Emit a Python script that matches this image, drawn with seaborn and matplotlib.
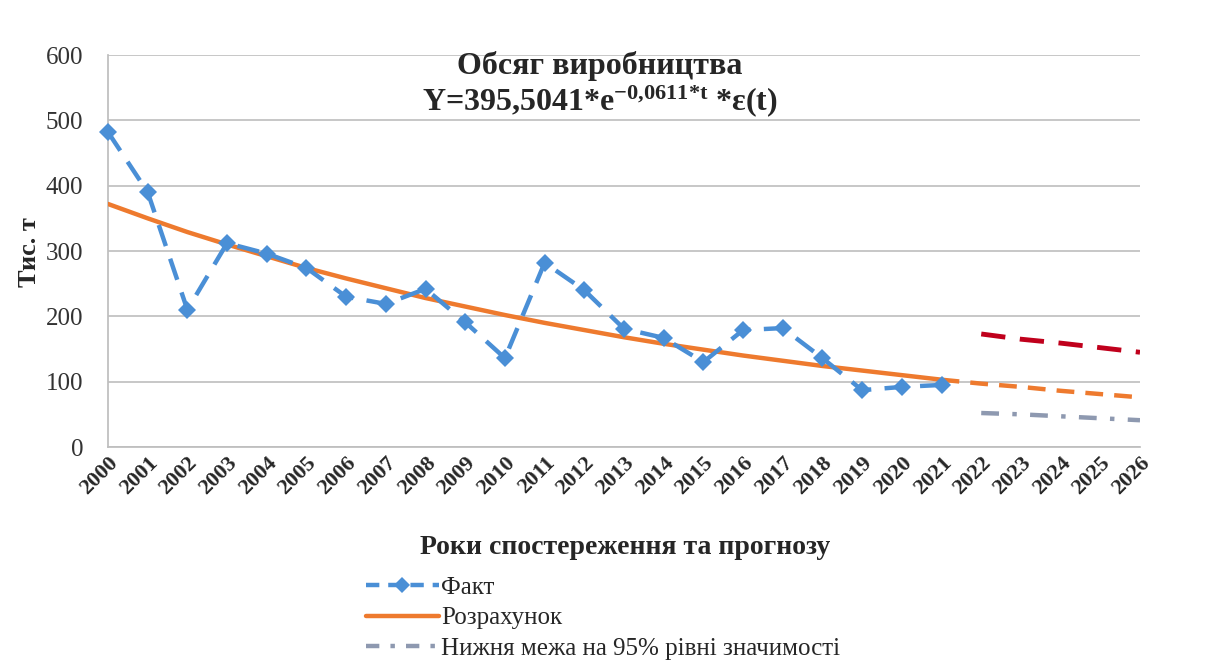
import numpy as np
import pandas as pd
import matplotlib
matplotlib.use("Agg")
import matplotlib.pyplot as plt
import seaborn as sns
from matplotlib.lines import Line2D

years = [str(y) for y in range(2000, 2027)]
fact_years = years[:22]
fact = [482, 390, 210, 312, 296, 274, 230, 219, 242, 191, 136, 282, 240, 181,
        167, 130, 179, 182, 136, 87, 92, 95]
calc_years = years[:22]
calc = [372, 350, 329, 310, 292, 274, 258, 243, 228, 215, 202, 190, 179, 168,
        158, 149, 140, 132, 124, 117, 110, 103]
fc_years = years[21:]
forecast = [103, 97, 92, 86, 81, 76]
bound_years = years[22:]
upper = [173, 165, 159, 152, 145]
lower = [52, 50, 47, 44, 41]

title1 = "Обсяг виробництва"
title2 = r"Y=395,5041*e$^{-0{,}0611{*}t}$ *ε(t)"
xlabel = "Роки спостереження та прогнозу"
ylabel = "Тис. т"
legend_labels = ["Факт", "Розрахунок", "Нижня межа на 95% рівні значимості"]

sns.set_theme(style="white")
plt.rcParams['font.family'] = ['Liberation Serif', 'DejaVu Serif']
plt.rcParams['mathtext.fontset'] = 'custom'
plt.rcParams['mathtext.rm'] = 'Liberation Serif:bold'
plt.rcParams['mathtext.it'] = 'Liberation Serif:bold'
plt.rcParams['mathtext.bf'] = 'Liberation Serif:bold'
plt.rcParams['mathtext.default'] = 'rm'

fig = plt.figure(figsize=(12.08, 6.61), dpi=100)
ax = fig.add_axes([108/1208, 1-447/661, (1140-108)/1208, (447-55)/661])

pos = {y: i for i, y in enumerate(years)}
def df(ys, vals):
    return pd.DataFrame({"x": [pos[y] for y in ys], "v": vals})

c_fact = "#4A8FD6"
c_calc = "#EE7A2E"
c_up = "#C0001C"
c_low = "#8E99B0"

sns.lineplot(data=df(calc_years, calc), x="x", y="v", ax=ax, color=c_calc, lw=3.2, zorder=3)
sns.lineplot(data=df(fc_years, forecast), x="x", y="v", ax=ax, color=c_calc, lw=3.2,
             zorder=3).lines[-1].set_dashes([4, 2.5])
l = sns.lineplot(data=df(fact_years, fact), x="x", y="v", ax=ax, color=c_fact, lw=3.2,
                 marker="D", markersize=9, markeredgewidth=0, zorder=4).lines[-1]
l.set_dashes([5, 3])
l.set_clip_on(False)
lu = sns.lineplot(data=df(bound_years, upper), x="x", y="v", ax=ax, color=c_up, lw=3.5, zorder=3).lines[-1]
lu.set_dashes([5, 3])
ll = sns.lineplot(data=df(bound_years, lower), x="x", y="v", ax=ax, color=c_low, lw=3.2, zorder=3).lines[-1]
ll.set_dashes([4, 3, 1, 3])

ax.set_xlim(0, 26)
ax.set_ylim(0, 600)
ax.set_yticks(range(0, 601, 100))
ax.set_xticks(range(len(years)))
ax.set_xticklabels(years, rotation=45, ha="right", rotation_mode="anchor",
                   fontsize=16, fontweight="bold")
ax.tick_params(axis="x", length=0, pad=4)
ax.tick_params(axis="y", length=0, pad=18, labelsize=18, labelcolor="#333333")
ax.grid(axis="y", color="#BEBEBE", lw=1.2)
for s in ["top", "right"]:
    ax.spines[s].set_visible(False)
ax.spines["left"].set_color("#BEBEBE")
ax.spines["bottom"].set_color("#BEBEBE")
ax.set_xlabel("")
ax.set_ylabel("")

fig.text(30/1208, 1-252/661, ylabel, rotation=90, ha="center", va="center",
         fontsize=19, fontweight="bold")
fig.text(625/1208, 1-548/661, xlabel, ha="center", va="center", fontsize=20, fontweight="bold")
fig.text(600/1208, 1-66/661, title1, ha="center", va="center", fontsize=23, fontweight="bold")
fig.text(600/1208, 1-101/661, title2, ha="center", va="center", fontsize=23, fontweight="bold")

handles = [
    Line2D([], [], color=c_fact, lw=3.2, dashes=[3, 2], marker="D", markersize=8, markeredgewidth=0),
    Line2D([], [], color=c_calc, lw=3.2),
    Line2D([], [], color=c_low, lw=3.2, dashes=[3, 2.5, 1, 2.5]),
]
fig.legend(handles, legend_labels, loc="upper left", bbox_to_anchor=(356/1208, 1-566/661),
           frameon=False, fontsize=18, handlelength=2.9, handletextpad=0.1,
           labelspacing=0.33, borderaxespad=0)

fig.savefig("out.png", dpi=100, facecolor="white")
